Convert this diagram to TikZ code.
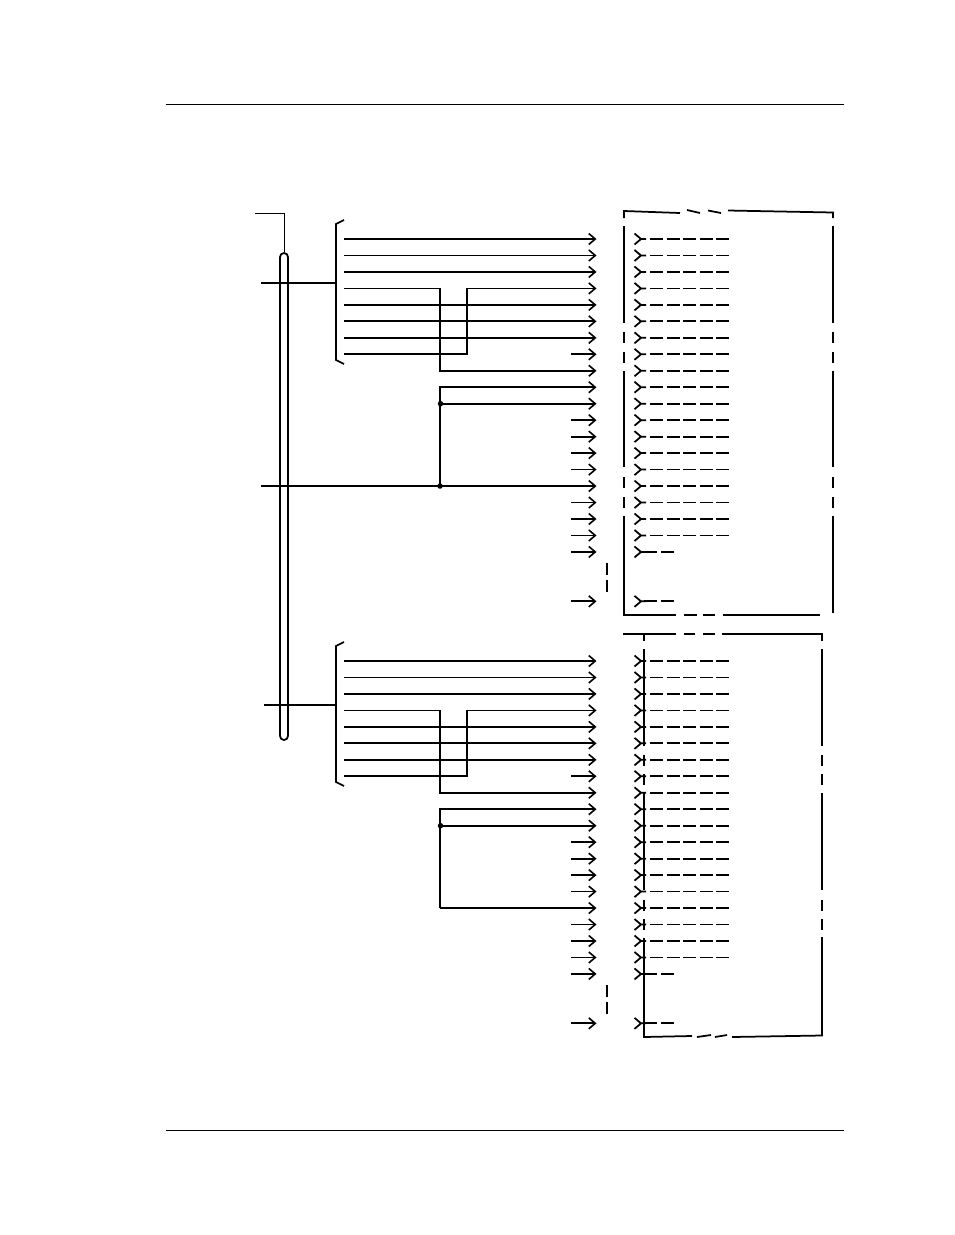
\documentclass[tikz,border=0pt]{standalone}
\usetikzlibrary{arrows.meta,calc}
\tikzset{
  wire/.style={line width=1.75pt,line cap=butt},
  arrowwire/.style={wire,-{Straight Barb[length=6.5pt,width=11pt,line width=1.6pt]}},
  rule/.style={line width=1.2pt},
  fivedash/.style={wire,dash pattern=on 13pt off 3.6pt},
  twodash/.style={wire,dash pattern=on 13pt off 4.6pt},
  junction/.style={circle,fill=black,inner sep=0pt,minimum size=5.5pt},
}
\newcommand{\rowset}[2]{%
  \foreach \i in {0,...,19,22} {
    \pgfmathsetmacro{\yy}{239+16.47*\i+#2}
    \coordinate (b#1\i) at (344,\yy);
    \coordinate (s#1\i) at (571,\yy);
    \coordinate (a#1\i) at (596.5,\yy);
    \coordinate (r#1\i) at (641,\yy);
    \coordinate (u#1\i) at (634.5,\yy-5.5);
    \coordinate (v#1\i) at (634.5,\yy+5.5);
    \coordinate (w#1\i) at (646,\yy);
    \coordinate (d#1\i) at (650,\yy);
    \coordinate (e#1\i) at (729.5,\yy);
    \coordinate (f#1\i) at (643.5,\yy);
    \coordinate (g#1\i) at (674,\yy);
    \draw[wire] (u#1\i) -- (r#1\i) -- (v#1\i) (r#1\i) -- (w#1\i);
  }
  \foreach \i in {0,...,18} \draw[fivedash] (d#1\i) -- (e#1\i);
  \foreach \i in {19,22} \draw[twodash] (f#1\i) -- (g#1\i);
  \foreach \i in {0,1,2,4,5,6} \draw[arrowwire] (b#1\i) -- (a#1\i);
  \foreach \i in {7,11,12,13,14,16,17,18,19,22} \draw[arrowwire] (s#1\i) -- (a#1\i);
  \coordinate (ja#1) at (440,0|-b#13);
  \coordinate (jb#1) at (440,0|-a#18);
  \coordinate (jc#1) at (467,0|-b#13);
  \coordinate (jd#1) at (467,0|-b#17);
  \coordinate (je#1) at (440,0|-a#19);
  \coordinate (jf#1) at (440,0|-a#115);
  \draw[arrowwire] (b#13) -- (ja#1) -- (jb#1) -- (a#18);
  \draw[arrowwire] (b#17) -- (jd#1) -- (jc#1) -- (a#13);
  \draw[arrowwire] (jf#1) -- (je#1) -- (a#19);
  \node[junction] (jg#1) at (440.5,0|-a#110) {};
  \draw[arrowwire] (jg#1.center) -- (a#110);
  \coordinate (c1#1) at (344,220+#2);
  \coordinate (c2#1) at (336,224+#2);
  \coordinate (c3#1) at (336,360+#2);
  \coordinate (c4#1) at (344,364+#2);
  \draw[wire] (c1#1) -- (c2#1) -- (c3#1) -- (c4#1);
  \coordinate (q1#1) at (607,563+#2);
  \coordinate (q2#1) at (607,575+#2);
  \coordinate (q3#1) at (607,580+#2);
  \coordinate (q4#1) at (607,592+#2);
  \draw[wire] (q1#1) -- (q2#1) (q3#1) -- (q4#1);
}
\begin{document}
\begin{tikzpicture}[x=1pt,y=-1pt]
\useasboundingbox (0,0) rectangle (954,1235);
% page rules
\coordinate (pa) at (166,104.5); \coordinate (pb) at (844,104.5);
\coordinate (pc) at (166,1130.5); \coordinate (pd) at (844,1130.5);
\draw[rule] (pa) -- (pb) (pc) -- (pd);
% bus
\node[draw,line width=1.75pt,rounded corners=4pt,minimum width=8pt,minimum height=487pt,inner sep=0pt] (bus) at (284,496.5) {};
\coordinate (t1) at (255,213.5); \coordinate (t2) at (284.5,213.5);
\draw[wire] (t1) -- (t2) -- (bus.north -| t2);
% row sets
\rowset{T}{0}
\rowset{B}{422}
% stems from the bus
\coordinate (h1) at (261,283); \coordinate (h2) at (336,283);
\coordinate (h3) at (264,705); \coordinate (h4) at (336,705);
\draw[wire] (h1) -- (h2) (h3) -- (h4);
% third feed, top group
\coordinate (h5) at (261,0|-aT15);
\node[junction] (jh) at (440,0|-aT15) {};
\draw[arrowwire] (h5) -- (aT15);
% bottom group closes on row 15
\draw[arrowwire] (jfB) -- (aB15);
% top box
\coordinate (k1) at (624,218); \coordinate (k2) at (624,211); \coordinate (k3) at (680,213);
\coordinate (k4) at (687,210); \coordinate (k5) at (700,213);
\coordinate (k6) at (708,210.5); \coordinate (k7) at (721,213);
\coordinate (k8) at (728,210.5); \coordinate (k9) at (833,212.5); \coordinate (k10) at (833,218);
\draw[wire] (k1) -- (k2) -- (k3) (k4) -- (k5) (k6) -- (k7) (k8) -- (k9) -- (k10);
\foreach \n/\xx in {L/624,R/833} {
  \foreach \m/\ya/\yb in {1/226/323,2/332/343,3/352/363,4/371/467,5/477/488,6/497/508} {
    \coordinate (m\n\m a) at (\xx,\ya); \coordinate (m\n\m b) at (\xx,\yb);
    \draw[wire] (m\n\m a) -- (m\n\m b);
  }
}
\coordinate (n1) at (624,516); \coordinate (n2) at (624,615); \coordinate (n3) at (676,615);
\coordinate (n4) at (684,615); \coordinate (n5) at (697,615);
\coordinate (n6) at (703,615); \coordinate (n7) at (715,615);
\coordinate (n8) at (723,615); \coordinate (n9) at (820,615);
\coordinate (n10) at (833,516); \coordinate (n11) at (833,613);
\draw[wire] (n1) -- (n2) -- (n3) (n4) -- (n5) (n6) -- (n7) (n8) -- (n9) (n10) -- (n11);
% bottom box
\coordinate (o1) at (623,634); \coordinate (o2) at (676,634);
\coordinate (o3) at (684,634); \coordinate (o4) at (695,634);
\coordinate (o5) at (703,634); \coordinate (o6) at (715,634);
\coordinate (o7) at (722,634); \coordinate (o8) at (822,634); \coordinate (o9) at (822,641);
\coordinate (o10) at (644,634); \coordinate (o11) at (644,641);
\draw[wire] (o1) -- (o2) (o3) -- (o4) (o5) -- (o6) (o7) -- (o8) -- (o9) (o10) -- (o11);
\foreach \n/\xx in {P/644,Q/822} {
  \foreach \m/\ya/\yb in {1/649/746,2/755/766,3/774/785,4/793/890,5/900/911,6/919/930} {
    \coordinate (x\n\m a) at (\xx,\ya); \coordinate (x\n\m b) at (\xx,\yb);
    \draw[wire] (x\n\m a) -- (x\n\m b);
  }
}
\coordinate (y1) at (644,938); \coordinate (y2) at (644,1037); \coordinate (y3) at (692,1036);
\coordinate (y4) at (697,1037); \coordinate (y5) at (711,1035);
\coordinate (y6) at (715,1037); \coordinate (y7) at (727,1035);
\coordinate (y8) at (732,1037); \coordinate (y9) at (822,1035.5); \coordinate (y10) at (822,937);
\draw[wire] (y1) -- (y2) -- (y3) (y4) -- (y5) (y6) -- (y7) (y8) -- (y9) -- (y10);
\end{tikzpicture}
\end{document}
